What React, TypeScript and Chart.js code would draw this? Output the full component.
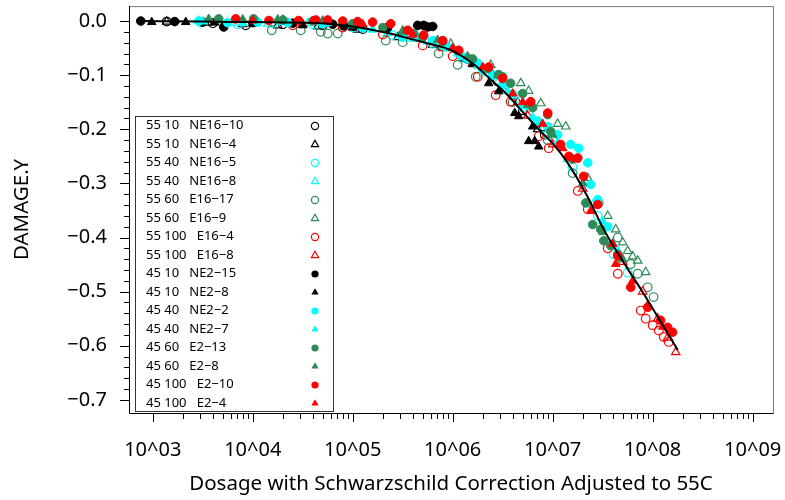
import React, { useEffect, useRef } from 'react';
import { Chart, registerables } from 'chart.js';

Chart.register(...registerables);

// ---------- Data ----------
const seriesLabels = [
  '55 10   NE16\u221210',
  '55 10   NE16\u22124',
  '55 40   NE16\u22125',
  '55 40   NE16\u22128',
  '55 60   E16\u221217',
  '55 60   E16\u22129',
  '55 100   E16\u22124',
  '55 100   E16\u22128',
  '45 10   NE2\u221215',
  '45 10   NE2\u22128',
  '45 40   NE2\u22122',
  '45 40   NE2\u22127',
  '45 60   E2\u221213',
  '45 60   E2\u22128',
  '45 100   E2\u221210',
  '45 100   E2\u22124',
];

const BLACK = '#000000';
const CYAN = '#00FFFF';
const GREEN = '#2E8B57';
const RED = '#FF0000';

const seriesColors = [BLACK, BLACK, CYAN, CYAN, GREEN, GREEN, RED, RED, BLACK, BLACK, CYAN, CYAN, GREEN, GREEN, RED, RED];
const seriesShapes = ['circle', 'triangle', 'circle', 'triangle', 'circle', 'triangle', 'circle', 'triangle',
  'circle', 'triangle', 'circle', 'triangle', 'circle', 'triangle', 'circle', 'triangle'];
const seriesFilled = [false, false, false, false, false, false, false, false, true, true, true, true, true, true, true, true];

// [dose, damage]
const s55_10_NE16_10: [number, number][] = [
  [1.38e3, -0.001], [3.98e3, -0.004], [8.51e3, -0.008], [2.00e4, -0.006], [5.01e4, -0.008], [1.26e5, -0.015],
  [3.16e5, -0.028], [7.08e5, -0.042], [1.41e6, -0.070], [2.82e6, -0.112], [5.01e6, -0.165], [8.32e6, -0.210],
];
const s55_10_NE16_4: [number, number][] = [
  [1.38e3, -0.001], [3.55e3, -0.003], [7.94e3, -0.006], [1.78e4, -0.008], [4.47e4, -0.010], [1.12e5, -0.016],
  [2.82e5, -0.030], [6.31e5, -0.044], [1.32e6, -0.070], [2.51e6, -0.100], [4.47e6, -0.150], [7.08e6, -0.200],
];
const s55_40_NE16_5: [number, number][] = [
  [3.02e3, -0.003], [7.08e3, -0.006], [1.58e4, -0.004], [3.98e4, -0.006], [1.00e5, -0.012], [2.51e5, -0.026],
  [6.31e5, -0.042], [1.26e6, -0.068], [2.51e6, -0.105], [5.01e6, -0.160], [8.91e6, -0.210], [1.58e7, -0.270],
  [2.82e7, -0.360], [4.07e7, -0.431], [5.62e7, -0.465],
];
const s55_40_NE16_8: [number, number][] = [
  [2.88e3, 0.000], [6.31e3, -0.003], [1.41e4, -0.005], [3.55e4, -0.004], [8.91e4, -0.011], [2.24e5, -0.022],
  [5.62e5, -0.038], [1.12e6, -0.060], [2.24e6, -0.096], [4.17e6, -0.140], [7.94e6, -0.200], [1.41e7, -0.255],
  [2.51e7, -0.340], [3.98e7, -0.410],
];
const s55_60_E16_17: [number, number][] = [
  [1.55e4, -0.017], [3.02e4, -0.017], [4.79e4, -0.020], [5.62e4, -0.023], [7.08e4, -0.023], [2.14e5, -0.036],
  [3.16e5, -0.039], [7.24e5, -0.060], [1.12e6, -0.081], [1.70e6, -0.103], [3.98e6, -0.150], [8.91e6, -0.220],
  [1.58e7, -0.281], [2.88e7, -0.336], [4.47e7, -0.400], [6.03e7, -0.449], [7.08e7, -0.467], [8.91e7, -0.492],
  [1.02e8, -0.510],
];
const s55_60_E16_9: [number, number][] = [
  [2.00e4, 0.002], [7.94e4, -0.003], [3.16e5, -0.018], [9.55e5, -0.042], [2.40e6, -0.081], [4.79e6, -0.115],
  [5.75e6, -0.129], [7.59e6, -0.152], [1.12e7, -0.190], [1.35e7, -0.195], [2.24e7, -0.290], [3.55e7, -0.360],
  [4.27e7, -0.385], [5.01e7, -0.409], [5.62e7, -0.425], [6.31e7, -0.435], [7.08e7, -0.443], [8.51e7, -0.464],
];
const s55_100_E16_4: [number, number][] = [
  [2.51e4, -0.008], [7.94e4, -0.012], [2.00e5, -0.025], [5.01e5, -0.045], [1.00e6, -0.065], [1.78e6, -0.103],
  [2.69e6, -0.137], [3.80e6, -0.149], [7.24e6, -0.213], [9.12e6, -0.235], [1.78e7, -0.314], [2.24e7, -0.348],
  [3.55e7, -0.420], [4.47e7, -0.467], [7.59e7, -0.535], [8.51e7, -0.550], [1.00e8, -0.562], [1.15e8, -0.572],
  [1.29e8, -0.584], [1.45e8, -0.593],
];
const s55_100_E16_8: [number, number][] = [
  [3.16e4, -0.006], [1.00e5, -0.012], [3.16e5, -0.030], [7.94e5, -0.050], [1.58e6, -0.078], [3.16e6, -0.125],
  [5.62e6, -0.175], [1.00e7, -0.228], [2.00e7, -0.310], [3.16e7, -0.380], [5.01e7, -0.445], [7.94e7, -0.500],
  [1.12e8, -0.550], [1.41e8, -0.585], [1.70e8, -0.612],
];
const s45_10_NE2_15: [number, number][] = [
  [7.59e2, 0.000], [1.66e3, -0.001], [3.16e3, -0.002], [5.13e3, -0.011], [1.00e4, -0.003], [2.51e4, -0.004],
  [6.31e4, -0.006], [8.13e4, -0.009], [1.02e5, -0.009], [2.24e5, -0.012], [4.47e5, -0.008], [5.13e5, -0.008],
  [5.62e5, -0.011], [6.31e5, -0.010],
];
const s45_10_NE2_8: [number, number][] = [
  [9.77e2, -0.002], [2.14e3, -0.002], [4.17e3, -0.003], [1.00e4, -0.005], [3.16e4, -0.008], [1.00e5, -0.012],
  [3.16e5, -0.028], [7.94e5, -0.045], [1.58e6, -0.080], [2.29e6, -0.115], [2.88e6, -0.130], [4.17e6, -0.170],
  [4.57e6, -0.176], [5.75e6, -0.222], [6.31e6, -0.195], [6.61e6, -0.222], [7.24e6, -0.232],
];
const s45_40_NE2_2: [number, number][] = [
  [2.88e3, 0.000], [5.62e3, -0.003], [1.12e4, -0.002], [2.24e4, -0.003], [5.01e4, -0.005], [1.26e5, -0.013],
  [3.16e5, -0.030], [4.47e5, -0.030], [6.31e5, -0.036], [7.94e5, -0.045], [8.91e5, -0.048], [1.20e6, -0.063],
  [1.41e6, -0.070], [1.78e6, -0.078], [2.00e6, -0.090], [2.51e6, -0.100], [3.16e6, -0.118], [3.98e6, -0.135],
  [5.01e6, -0.155], [7.08e6, -0.185], [8.91e6, -0.195], [1.12e7, -0.210], [1.51e7, -0.228], [1.82e7, -0.235],
  [2.24e7, -0.262], [2.40e7, -0.302], [2.82e7, -0.330], [3.55e7, -0.380],
];
const s45_40_NE2_7: [number, number][] = [
  [3.16e3, -0.001], [7.94e3, -0.004], [2.00e4, -0.002], [5.62e4, -0.004], [1.58e5, -0.016], [3.98e5, -0.033],
  [8.91e5, -0.050], [1.78e6, -0.083], [3.55e6, -0.130], [6.31e6, -0.178], [1.12e7, -0.225], [2.00e7, -0.300],
  [3.16e7, -0.370], [4.47e7, -0.425],
];
const s45_60_E2_13: [number, number][] = [
  [4.57e3, 0.004], [1.02e4, 0.004], [2.00e4, 0.002], [3.98e4, 0.000], [1.00e5, -0.005], [2.00e5, -0.012],
  [4.07e5, -0.023], [5.01e5, -0.030], [7.94e5, -0.038], [1.12e6, -0.055], [1.58e6, -0.070], [2.24e6, -0.088],
  [2.88e6, -0.099], [3.16e6, -0.103], [3.80e6, -0.115], [5.01e6, -0.134], [6.31e6, -0.160], [8.91e6, -0.173],
  [9.55e6, -0.204], [1.58e7, -0.255], [2.14e7, -0.336], [2.51e7, -0.376], [3.02e7, -0.385], [3.24e7, -0.406],
  [3.80e7, -0.415], [4.47e7, -0.431],
];
const s45_60_E2_8: [number, number][] = [
  [3.63e3, 0.004], [7.94e3, 0.003], [1.78e4, 0.003], [5.01e4, 0.001], [1.26e5, -0.008], [3.16e5, -0.020],
  [7.08e5, -0.035], [1.41e6, -0.065], [2.82e6, -0.100], [5.62e6, -0.155], [1.00e7, -0.210], [2.00e7, -0.300],
  [3.16e7, -0.390], [5.01e7, -0.440],
];
const s45_100_E2_10: [number, number][] = [
  [6.76e3, 0.004], [1.45e4, 0.001], [2.88e4, 0.001], [4.27e4, 0.002], [5.62e4, 0.002], [7.94e4, 0.000],
  [1.12e5, -0.001], [1.58e5, -0.002], [2.40e5, -0.005], [3.55e5, -0.017], [5.13e5, -0.026], [7.94e5, -0.036],
  [1.15e6, -0.054], [2.29e6, -0.085], [3.16e6, -0.106], [6.03e6, -0.149], [8.91e6, -0.170], [1.20e7, -0.228],
  [1.45e7, -0.250], [1.78e7, -0.253], [2.04e7, -0.287], [2.82e7, -0.339], [4.47e7, -0.434], [6.03e7, -0.492],
  [8.91e7, -0.529], [1.20e8, -0.553], [1.41e8, -0.566], [1.58e8, -0.575],
];
const s45_100_E2_4: [number, number][] = [
  [1.00e4, 0.001], [3.98e4, 0.000], [1.26e5, -0.006], [3.98e5, -0.025], [1.00e6, -0.050], [2.00e6, -0.085],
  [3.98e6, -0.134], [5.01e6, -0.150], [7.94e6, -0.190], [1.26e7, -0.235], [1.70e7, -0.256], [2.40e7, -0.351],
  [3.98e7, -0.412], [4.27e7, -0.449], [6.31e7, -0.480], [8.91e7, -0.525], [1.26e8, -0.565],
];

const seriesData = [
  s55_10_NE16_10, s55_10_NE16_4, s55_40_NE16_5, s55_40_NE16_8,
  s55_60_E16_17, s55_60_E16_9, s55_100_E16_4, s55_100_E16_8,
  s45_10_NE2_15, s45_10_NE2_8, s45_40_NE2_2, s45_40_NE2_7,
  s45_60_E2_13, s45_60_E2_8, s45_100_E2_10, s45_100_E2_4,
];

// fitted curve
const fitCurve: [number, number][] = [
  [7.59e2, 0.000], [3.16e3, -0.001], [1.00e4, -0.002], [4.79e4, -0.004], [1.00e5, -0.010], [2.24e5, -0.022],
  [4.79e5, -0.038], [1.02e6, -0.056], [1.62e6, -0.080], [2.40e6, -0.108], [3.55e6, -0.137], [5.13e6, -0.170],
  [7.59e6, -0.204], [1.00e7, -0.226], [1.41e7, -0.262], [2.24e7, -0.325], [3.24e7, -0.385], [5.62e7, -0.458],
  [7.59e7, -0.495], [1.78e8, -0.608],
];

const xTickValues = [1e3, 1e4, 1e5, 1e6, 1e7, 1e8, 1e9];
const xTickLabels = ['10^03', '10^04', '10^05', '10^06', '10^07', '10^08', '10^09'];
const yTickValues = [-0.7, -0.6, -0.5, -0.4, -0.3, -0.2, -0.1, 0.0];
const yTickLabels = ['\u22120.7', '\u22120.6', '\u22120.5', '\u22120.4', '\u22120.3', '\u22120.2', '\u22120.1', '0.0'];

const X_MIN = 579;
const X_MAX = 1.596e9;
const Y_MIN = -0.7243;
const Y_MAX = 0.0276;

const FONT = '"Noto Sans", "Open Sans", sans-serif';

function drawMarker(ctx: CanvasRenderingContext2D, x: number, y: number, shape: string, color: string, filled: boolean, r: number) {
  ctx.beginPath();
  if (shape === 'circle') {
    ctx.arc(x, y, r, 0, Math.PI * 2);
  } else {
    const h = r;
    ctx.moveTo(x, y - h);
    ctx.lineTo(x + h * 0.866, y + h * 0.5);
    ctx.lineTo(x - h * 0.866, y + h * 0.5);
    ctx.closePath();
  }
  if (filled) {
    ctx.fillStyle = color;
    ctx.fill();
  } else {
    ctx.strokeStyle = color;
    ctx.lineWidth = 1.2;
    ctx.stroke();
  }
}

const framePlugin = {
  id: 'framePlugin',
  afterDraw(chart: any) {
    const ctx: CanvasRenderingContext2D = chart.ctx;
    const { left, right, top, bottom } = chart.chartArea;
    const xs = chart.scales.x;
    const ys = chart.scales.y;
    ctx.save();
    // frame
    ctx.lineWidth = 1;
    ctx.strokeStyle = '#7a7a7a';
    ctx.beginPath();
    ctx.moveTo(left, top + 0.5);
    ctx.lineTo(right + 0.5, top + 0.5);
    ctx.lineTo(right + 0.5, bottom);
    ctx.stroke();
    ctx.strokeStyle = '#000';
    ctx.beginPath();
    ctx.moveTo(left + 0.5, top);
    ctx.lineTo(left + 0.5, bottom + 0.5);
    ctx.lineTo(right + 0.5, bottom + 0.5);
    ctx.stroke();

    // x ticks (major at decades, minor 2..9)
    ctx.beginPath();
    for (let e = 3; e <= 9; e++) {
      for (let m = 1; m <= 9; m++) {
        const v = m * Math.pow(10, e);
        if (v > 1e9) break;
        const px = Math.round(xs.getPixelForValue(v)) + 0.5;
        const len = m === 1 ? 9 : 6;
        ctx.moveTo(px, bottom);
        ctx.lineTo(px, bottom + len);
      }
    }
    // y ticks (major 0.1, minor 0.02)
    for (let k = 0; k <= 35; k++) {
      const v = -k * 0.02;
      const py = Math.round(ys.getPixelForValue(v)) + 0.5;
      const len = k % 5 === 0 ? 9 : 5;
      ctx.moveTo(left, py);
      ctx.lineTo(left - len, py);
    }
    ctx.stroke();

    // legend
    const lx = 135, ly = 116, lw = 198, lh = 295;
    ctx.fillStyle = '#fff';
    ctx.fillRect(lx, ly, lw, lh);
    ctx.strokeStyle = '#333';
    ctx.strokeRect(lx + 0.5, ly + 0.5, lw, lh);
    ctx.font = `13px ${FONT}`;
    ctx.textBaseline = 'middle';
    ctx.textAlign = 'left';
    seriesLabels.forEach((t, i) => {
      const y = 125.5 + i * 18.5;
      ctx.fillStyle = '#000';
      ctx.fillText(t, 146, y);
      drawMarker(ctx, 315, y + 0.5, seriesShapes[i], seriesColors[i], seriesFilled[i], seriesShapes[i] === 'circle' ? 3.6 : 4.2);
    });
    ctx.restore();
  },
};

export default function App() {
  const ref = useRef<HTMLCanvasElement | null>(null);
  useEffect(() => {
    if (!ref.current) return;
    const datasets: any[] = seriesData.map((pts, i) => ({
      label: seriesLabels[i],
      data: pts.map(([x, y]) => ({ x, y })),
      pointStyle: seriesShapes[i],
      pointRadius: seriesShapes[i] === 'circle' ? 4.3 : 4.9,
      pointBorderWidth: seriesFilled[i] ? 1 : 1.2,
      pointBackgroundColor: seriesFilled[i] ? seriesColors[i] : 'rgba(0,0,0,0)',
      pointBorderColor: seriesColors[i],
      borderColor: seriesColors[i],
      backgroundColor: seriesFilled[i] ? seriesColors[i] : 'rgba(0,0,0,0)',
      showLine: false,
      order: 16 - i,
    }));
    datasets.push({
      label: 'fit',
      data: fitCurve.map(([x, y]) => ({ x, y })),
      showLine: true,
      pointRadius: 0,
      borderColor: '#000',
      borderWidth: 2,
      cubicInterpolationMode: 'monotone',
      fill: false,
      order: 0,
    });

    const chart = new Chart(ref.current, {
      type: 'scatter',
      data: { datasets },
      options: {
        animation: false,
        responsive: false,
        devicePixelRatio: 1,
        layout: { padding: { top: 4, right: 12, left: 0, bottom: 0 } },
        plugins: { legend: { display: false }, tooltip: { enabled: false } },
        scales: {
          x: {
            type: 'logarithmic',
            min: X_MIN,
            max: X_MAX,
            afterBuildTicks: (s: any) => { s.ticks = xTickValues.map((v) => ({ value: v })); },
            afterFit: (s: any) => {
              s.height = 87;
              s.paddingLeft = 0; s.paddingRight = 0; s.paddingTop = 0; s.paddingBottom = 0;
            },
            grid: { display: false, drawTicks: false },
            border: { display: false },
            ticks: {
              autoSkip: false, maxRotation: 0, padding: 25, color: '#000',
              font: { family: FONT, size: 20 },
              callback: (_v: any, i: number) => xTickLabels[i],
            },
            title: {
              display: true, text: 'Dosage with Schwarzschild Correction Adjusted to 55C', color: '#000',
              font: { family: FONT, size: 20.5 }, padding: { top: 0, bottom: 4 },
            },
          },
          y: {
            type: 'linear',
            min: Y_MIN,
            max: Y_MAX,
            afterBuildTicks: (s: any) => { s.ticks = yTickValues.map((v) => ({ value: v })); },
            afterFit: (s: any) => {
              s.width = 129;
              s.paddingLeft = 0; s.paddingRight = 0; s.paddingTop = 0; s.paddingBottom = 0;
            },
            grid: { display: false, drawTicks: false },
            border: { display: false },
            ticks: {
              autoSkip: false, padding: 22, color: '#000',
              font: { family: FONT, size: 20 },
              callback: (_v: any, i: number) => yTickLabels[i],
            },
            title: {
              display: true, text: 'DAMAGE.Y', color: '#000',
              font: { family: FONT, size: 20.5 }, padding: { top: 10, bottom: 0 },
            },
          },
        },
      },
      plugins: [framePlugin],
    } as any);
    return () => chart.destroy();
  }, []);

  return (
    <div style={{ position: 'absolute', left: 0, top: 0, width: 785, height: 500, background: '#fff' }}>
      <canvas ref={ref} width={785} height={500} style={{ width: 785, height: 500, display: 'block' }} />
    </div>
  );
}
